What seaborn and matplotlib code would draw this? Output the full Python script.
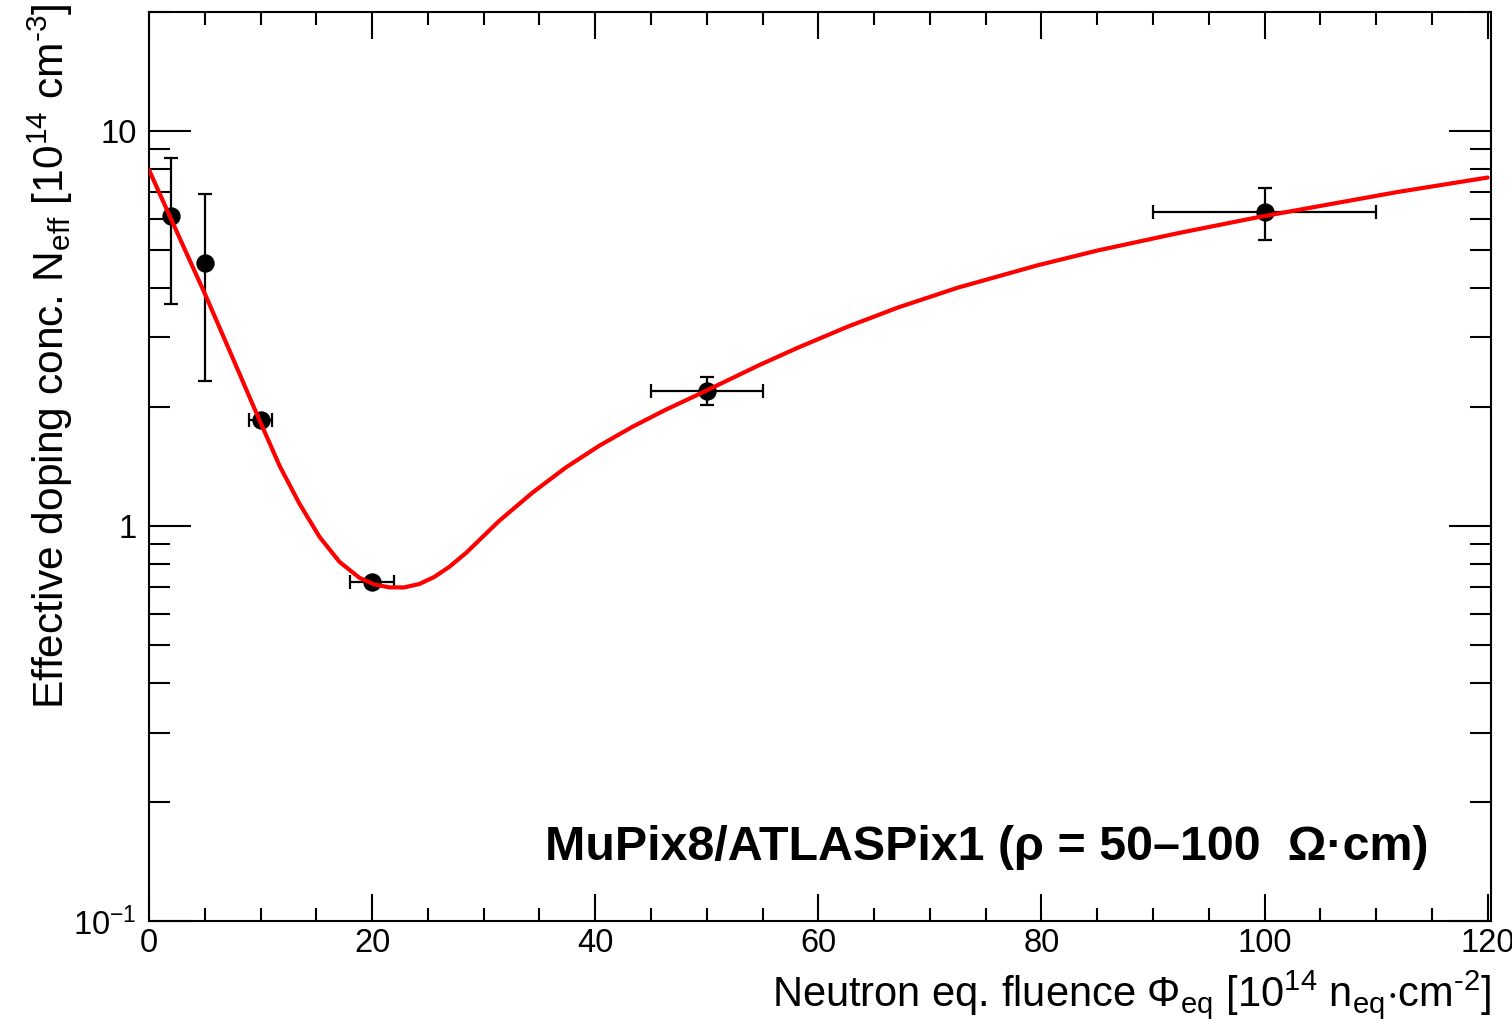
import numpy as np
import pandas as pd
import matplotlib
matplotlib.use("Agg")
import matplotlib.pyplot as plt
from matplotlib.ticker import FixedLocator, FixedFormatter, MultipleLocator, NullFormatter
import seaborn as sns

# Measured effective doping concentration vs. neutron fluence
fluence = [2, 5, 10, 20, 50, 100]
fluence_err = [0, 0, 1, 2, 5, 10]
neff = [6.10, 4.63, 1.85, 0.72, 2.20, 6.24]
neff_err = [2.45, 2.30, 0.05, 0.02, 0.18, 0.95]

# Fit curve sampled along fluence
fit_fluence = [0.0, 1.97, 3.67, 5.01, 7.24, 9.93, 11.71, 13.50, 15.29, 17.08, 18.87,
               20.21, 21.55, 22.89, 24.23, 25.58, 26.92, 28.41, 31.39, 34.37, 37.35,
               40.33, 43.31, 46.29, 49.72, 54.64, 58.21, 62.69, 67.16, 72.52, 79.68,
               85.04, 92.19, 99.35, 111.87, 120.0]
fit_neff = [7.97, 5.99, 4.69, 3.87, 2.77, 1.845, 1.419, 1.137, 0.938, 0.811, 0.739,
            0.711, 0.699, 0.699, 0.713, 0.743, 0.788, 0.854, 1.030, 1.214, 1.405,
            1.594, 1.781, 1.967, 2.184, 2.549, 2.830, 3.200, 3.574, 4.012, 4.571,
            4.981, 5.506, 6.043, 7.000, 7.621]

y_ticks = [0.1, 1, 10]
y_ticklabels = [r"10$^{-1}$", "1", "10"]
x_ticks = [0, 20, 40, 60, 80, 100, 120]

sns.set_theme(style="ticks")
plt.rcParams["font.family"] = ["Liberation Sans", "DejaVu Sans"]
plt.rcParams["mathtext.fontset"] = "custom"
plt.rcParams["mathtext.rm"] = "Liberation Sans"
plt.rcParams["mathtext.it"] = "Liberation Sans:italic"
plt.rcParams["mathtext.bf"] = "Liberation Sans:bold"

data = pd.DataFrame({"fluence": fluence, "neff": neff,
                     "fluence_err": fluence_err, "neff_err": neff_err})
fit = pd.DataFrame({"fluence": fit_fluence, "neff": fit_neff})

fig = plt.figure(figsize=(15.12, 10.24), dpi=100)
ax = fig.add_axes([149 / 1512, 1 - 921 / 1024, (1491 - 149) / 1512, (921 - 12) / 1024])

ax.errorbar(data["fluence"], data["neff"], xerr=data["fluence_err"], yerr=data["neff_err"],
            fmt="none", ecolor="black", elinewidth=1.6, capsize=5, capthick=1.6, zorder=2)
sns.scatterplot(data=data, x="fluence", y="neff", ax=ax, color="black", s=175,
                edgecolor="black", linewidth=0, zorder=3)
sns.lineplot(data=fit, x="fluence", y="neff", ax=ax, color="#ff0000", linewidth=3.0,
             estimator=None, sort=True, zorder=4)

ax.set_yscale("log")
ax.set_xlim(0, 120.3)
ax.set_ylim(0.1, 20)

ax.xaxis.set_major_locator(FixedLocator(x_ticks))
ax.xaxis.set_minor_locator(MultipleLocator(5))
ax.yaxis.set_major_locator(FixedLocator(y_ticks))
ax.yaxis.set_major_formatter(FixedFormatter(y_ticklabels))
minor_y = [m * 10.0 ** e for e in (-1, 0, 1) for m in range(2, 10)]
ax.yaxis.set_minor_locator(FixedLocator(minor_y))
ax.yaxis.set_minor_formatter(NullFormatter())

for side in ax.spines.values():
    side.set_visible(True)
    side.set_linewidth(1.5)
    side.set_color("black")

ax.tick_params(axis="both", which="both", direction="in", top=True, right=True,
               color="black", width=1.5, labelsize=23.5, labelcolor="black")
ax.tick_params(axis="x", which="major", length=19.5, pad=5)
ax.tick_params(axis="x", which="minor", length=9.5)
ax.tick_params(axis="y", which="major", length=30, pad=9)
ax.tick_params(axis="y", which="minor", length=15)

ax.set_xlabel(r"Neutron eq. fluence $\Phi_{\rm eq}$ [10$^{14}$ n$_{\rm eq}$$\cdot$cm$^{\text{-2}}$]",
              fontsize=30, loc="right", color="black")
ax.xaxis.set_label_coords(1.0, -0.052)
ax.set_ylabel(r"Effective doping conc. N$_{\rm eff}$ [10$^{14}$ cm$^{\text{-3}}$]",
              fontsize=30.6, loc="top", color="black")
ax.yaxis.set_label_coords(-0.055, 1.01)

ax.text(0.295, 0.067, "MuPix8/ATLASPix1 (ρ = 50–100  Ω·cm)", transform=ax.transAxes,
        fontsize=34.8, fontweight="bold", ha="left", va="baseline", color="black")

fig.savefig("out.png", dpi=100, facecolor="white")
